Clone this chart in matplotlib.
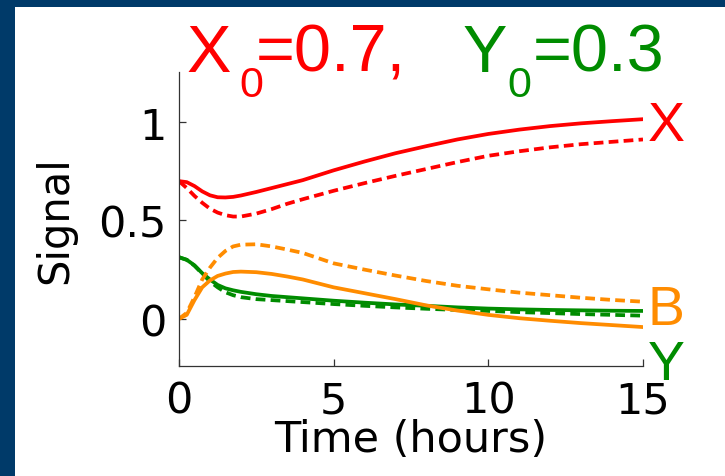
import matplotlib
matplotlib.use("Agg")
import matplotlib.pyplot as plt
from matplotlib.patches import Rectangle

# Time grid (hours) shared by all curves
t = [0, 0.25, 0.5, 0.75, 1, 1.25, 1.5, 1.75, 2, 2.5, 3, 3.5, 4,
     5, 6, 7, 8, 9, 10, 11, 12, 13, 14, 15]

# X signal (solid / dashed)
x_solid = [0.70, 0.695, 0.675, 0.648, 0.628, 0.618, 0.617, 0.620, 0.627, 0.645, 0.665, 0.685, 0.705,
           0.755, 0.80, 0.842, 0.878, 0.912, 0.940, 0.962, 0.980, 0.994, 1.005, 1.015]
x_dash = [0.70, 0.665, 0.625, 0.590, 0.560, 0.540, 0.527, 0.520, 0.520, 0.535, 0.558, 0.585, 0.608,
          0.651, 0.690, 0.727, 0.762, 0.797, 0.829, 0.852, 0.872, 0.888, 0.900, 0.912]

# B signal
b_solid = [0.0, 0.02, 0.095, 0.16, 0.195, 0.218, 0.230, 0.238, 0.240, 0.237, 0.228, 0.215, 0.200,
           0.160, 0.130, 0.100, 0.068, 0.042, 0.020, 0.003, -0.010, -0.022, -0.032, -0.042]
b_dash = [0.0, 0.03, 0.11, 0.20, 0.26, 0.31, 0.345, 0.368, 0.377, 0.379, 0.368, 0.352, 0.335,
          0.282, 0.250, 0.220, 0.192, 0.168, 0.150, 0.133, 0.120, 0.107, 0.096, 0.087]

# Y signal
y_solid = [0.313, 0.300, 0.272, 0.232, 0.200, 0.172, 0.155, 0.145, 0.137, 0.125, 0.116, 0.110, 0.104,
           0.092, 0.082, 0.073, 0.066, 0.058, 0.052, 0.048, 0.045, 0.043, 0.041, 0.040]
y_dash = [0.313, 0.300, 0.270, 0.230, 0.190, 0.160, 0.135, 0.120, 0.110, 0.100, 0.095, 0.090, 0.085,
          0.075, 0.066, 0.058, 0.051, 0.045, 0.040, 0.034, 0.029, 0.024, 0.020, 0.016]

red = "#ff0000"
green = "#008c00"
orange = "#ff8c00"
dash = (0, (2.6, 1.4))

fig = plt.figure(figsize=(7.25, 4.77), dpi=100, facecolor="#003a69")
# white panel inside the dark frame
fig.patches.append(Rectangle((15 / 725, 0), 1, 1 - 8 / 477, transform=fig.transFigure,
                             facecolor="white", edgecolor="none", zorder=-10))

ax = fig.add_axes([179 / 725, 1 - 367 / 477, 464 / 725, 294 / 477])
ax.set_zorder(1)
ax.set_facecolor("none")

lw = 2.7
ax.plot(t, y_dash, color=green, lw=lw, ls=dash)
ax.plot(t, y_solid, color=green, lw=lw)
ax.plot(t, x_dash, color=red, lw=lw, ls=dash)
ax.plot(t, x_solid, color=red, lw=lw)
ax.plot(t, b_dash, color=orange, lw=lw, ls=dash)
ax.plot(t, b_solid, color=orange, lw=lw)

ax.set_xlim(0, 15)
ax.set_ylim(-0.24, 1.255)
ax.set_xticks([0, 5, 10, 15])
ax.set_xticklabels(["0", "5", "10", "15"])
ax.set_yticks([0, 0.5, 1])
ax.set_yticklabels(["0", "0.5", "1"])
for s in ["top", "right"]:
    ax.spines[s].set_visible(False)
for s in ["left", "bottom"]:
    ax.spines[s].set_color("#333333")
    ax.spines[s].set_linewidth(0.9)
ax.tick_params(direction="in", length=5, width=0.9, color="#333333", labelsize=31)
ax.tick_params(axis="x", pad=10)
ax.tick_params(axis="y", pad=9)
ax.set_xlabel("Time (hours)", fontsize=31, labelpad=-3)
ax.set_ylabel("Signal", fontsize=30, labelpad=16)

# curve names at the right end
lab = dict(fontsize=40, family="Liberation Sans", va="center", ha="left", clip_on=False)
ax.text(15.15, 0.98, "X", color=red, **lab)
ax.text(15.15, 0.045, "B", color=orange, **lab)
ax.text(15.15, -0.235, "Y", color=green, **lab)

# title with coloured parts and subscripts
big = dict(fontsize=48, family="Liberation Sans", va="baseline", ha="left")
sub = dict(fontsize=31, family="Liberation Sans", va="baseline", ha="left")
yb = 1 - 72 / 477
ys = 1 - 97 / 477
fig.text(187 / 725, yb, "X", color=red, **big)
fig.text(239 / 725, ys, "0", color=red, **sub)
fig.text(256 / 725, yb, "=0.7,", color=red, **big)
fig.text(462 / 725, yb, "Y", color=green, **big)
fig.text(507 / 725, ys, "0", color=green, **sub)
fig.text(533 / 725, yb, "=0.3", color=green, **big)

fig.savefig("out.png", dpi=100, facecolor=fig.get_facecolor())
